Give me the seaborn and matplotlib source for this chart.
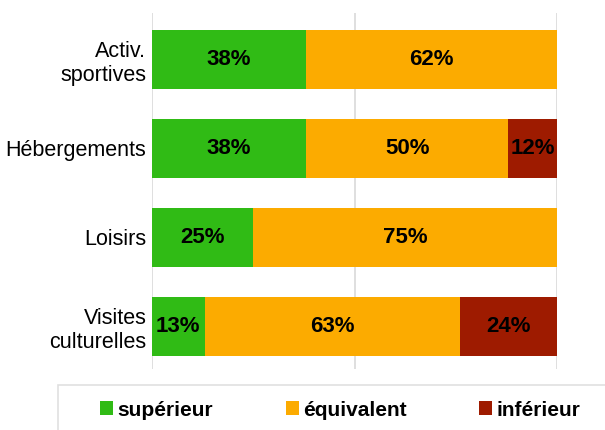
import matplotlib
matplotlib.use('Agg')
import matplotlib.pyplot as plt
import seaborn as sns
import numpy as np
from matplotlib.patches import Patch, Rectangle

categories = ['Activ.\nsportives', 'Hébergements', 'Loisirs', 'Visites\nculturelles']
superieur = [38, 38, 25, 13]
equivalent = [62, 50, 75, 63]
inferieur = [0, 12, 0, 24]
series_names = ['supérieur', 'équivalent', 'inférieur']
colors = ['#30BB15', '#FCAB00', '#9E1B00']

sns.set_theme(style='white')
plt.rcParams['font.family'] = ['Liberation Sans', 'DejaVu Sans']

fig = plt.figure(figsize=(6.05, 4.30), dpi=100)
ax = fig.add_axes([152 / 605, 1 - 369 / 430, 405 / 605, 356 / 430])

values = np.array([superieur, equivalent, inferieur], dtype=float)
cum = values.cumsum(axis=0)

# draw from the total down so each layer covers the previous one
for i in range(2, -1, -1):
    sns.barplot(x=cum[i], y=categories, orient='h', color=colors[i],
                saturation=1, width=0.67, linewidth=0, ax=ax, zorder=2)

for i in range(3):
    for j, cat in enumerate(categories):
        v = values[i, j]
        if v > 0:
            ax.text(cum[i, j] - v / 2, j, f'{int(v)}%', ha='center', va='center',
                    fontsize=16, fontweight='bold', color='black', zorder=3)

ax.set_xlim(0, 100)
ax.set_ylim(3.478, -0.522)
ax.set_xticks([0, 50, 100])
ax.set_xticklabels([])
ax.xaxis.grid(True, color='#d9d9d9', linewidth=1.2, zorder=0)
ax.set_axisbelow(True)
ax.tick_params(axis='y', length=0, pad=4, labelsize=15.5, labelcolor='black')
ax.tick_params(axis='x', length=0)
for lbl in ax.get_yticklabels():
    lbl.set_multialignment('right')
for s in ax.spines.values():
    s.set_visible(False)
ax.set_xlabel('')
ax.set_ylabel('')

# legend box
fig.patches.append(Rectangle((58 / 605, -0.1), 1.0, 0.1 + (1 - 385 / 430),
                             transform=fig.transFigure, fill=False,
                             edgecolor='#e0e0e0', linewidth=1.2))
handles = [Patch(facecolor=c, edgecolor='none') for c in colors]
leg = fig.legend(handles, series_names, loc='center left',
                 bbox_to_anchor=(100 / 605, 1 - 410 / 430), ncol=3,
                 frameon=False, borderpad=0, borderaxespad=0,
                 handlelength=0.62, handleheight=0.62, handletextpad=0.2,
                 columnspacing=3.5, prop={'size': 15, 'weight': 'bold'})
for t in leg.get_texts():
    t.set_color('black')

fig.savefig('out.png', dpi=100)
